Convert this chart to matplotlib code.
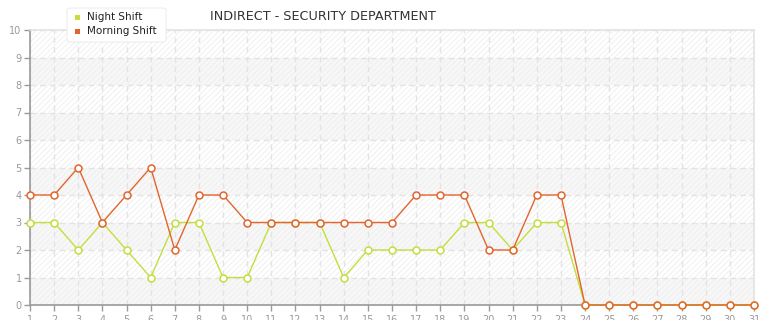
import matplotlib
matplotlib.use("Agg")
import matplotlib.pyplot as plt
from matplotlib.patches import FancyBboxPatch

days = list(range(1, 32))
night_shift = [3, 3, 2, 3, 2, 1, 3, 3, 1, 1, 3, 3, 3, 1, 2, 2, 2, 2, 3, 3, 2, 3, 3, 0, 0, 0, 0, 0, 0, 0, 0]
morning_shift = [4, 4, 5, 3, 4, 5, 2, 4, 4, 3, 3, 3, 3, 3, 3, 3, 4, 4, 4, 2, 2, 4, 4, 0, 0, 0, 0, 0, 0, 0, 0]
y_ticks = list(range(0, 11))
title = "INDIRECT - SECURITY DEPARTMENT"
series_names = ["Night Shift", "Morning Shift"]
night_color = "#c3de3e"
morning_color = "#e2652e"

plt.rcParams['hatch.color'] = '#ededed'
plt.rcParams['hatch.linewidth'] = 0.6

fig = plt.figure(figsize=(7.65, 3.2), dpi=100)
ax = fig.add_axes([30/765, 15/320, (754-30)/765, (305-30)/320])
ax.set_xlim(1, 31)
ax.set_ylim(0, 10)

for lo in range(0, 10):
    fc = '#f7f7f7' if lo % 2 == 0 else '#ffffff'
    ax.axhspan(lo, lo + 1, facecolor=fc, edgecolor='#eeeeee', hatch='//////', lw=0, zorder=0)

ax.grid(True, color='#e3e3e3', linestyle=(0, (4, 3)), linewidth=1, zorder=1)
ax.set_axisbelow(True)

ax.plot(days, night_shift, color=night_color, lw=1, marker='o', ms=5,
        mfc='white', mec=night_color, mew=1.1, zorder=3, clip_on=False)
ax.plot(days, morning_shift, color=morning_color, lw=1, marker='o', ms=5,
        mfc='white', mec=morning_color, mew=1.1, zorder=4, clip_on=False)

ax.set_xticks(days)
ax.set_yticks(y_ticks)
ax.tick_params(axis='both', colors='#999999', labelsize=7, length=4, width=1, direction='out')
ax.tick_params(axis='x', pad=3)
ax.tick_params(axis='y', pad=2)
for s in ['left', 'bottom']:
    ax.spines[s].set_color('#999999')
    ax.spines[s].set_linewidth(1.2)
for s in ['top', 'right']:
    ax.spines[s].set_color('#e3e3e3')
    ax.spines[s].set_linewidth(1.2)

fig.text(323/765, 1 - 17/320, title, ha='center', va='center', fontsize=9.2, color='#333333')

# legend box
box = FancyBboxPatch((67/765, 1 - 42/320), (166-67)/765, (42-8)/320,
                     boxstyle="round,pad=0,rounding_size=0.006", transform=fig.transFigure,
                     facecolor='white', edgecolor='#eeeeee', lw=0.8, zorder=5)
fig.patches.append(box)
for i, (name, c) in enumerate(zip(series_names, [night_color, morning_color])):
    y = 1 - (17 + 14 * i) / 320
    fig.patches.append(plt.Rectangle((75/765, y - 2.5/320), 5/765, 5/320,
                                     transform=fig.transFigure, facecolor=c, edgecolor='none', zorder=6))
    fig.text(87/765, y, name, ha='left', va='center', fontsize=7.5, color='#222222', zorder=7)

fig.savefig("out.png", dpi=100, facecolor='white')
